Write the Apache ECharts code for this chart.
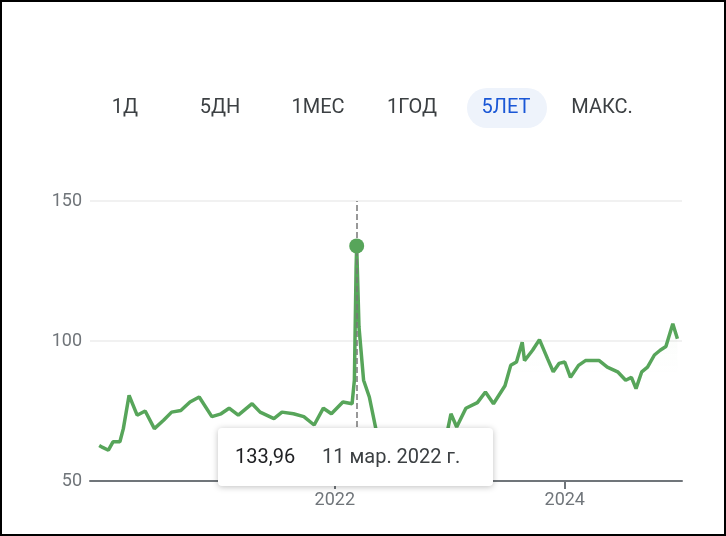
<!DOCTYPE html>
<html><head><meta charset="utf-8">
<script src="https://cdn.jsdelivr.net/npm/echarts@6/dist/echarts.min.js"></script>
<style>
html,body{margin:0;padding:0;background:#fff}
#frame{position:absolute;left:0;top:0;width:722px;height:532px;border:2px solid #000}
#chart{width:726px;height:536px;position:absolute;left:0;top:0}
</style></head>
<body><div id="frame"></div><div id="chart"></div>
<script>
// time in fractional years, price values
var times = [2019.95, 2019.98, 2020.03, 2020.07, 2020.13, 2020.16, 2020.21, 2020.28, 2020.35, 2020.43, 2020.51, 2020.58, 2020.66, 2020.74, 2020.82, 2020.93, 2021.01, 2021.08, 2021.16, 2021.28, 2021.35, 2021.47, 2021.54, 2021.64, 2021.73, 2021.82, 2021.9, 2021.97, 2022.07, 2022.15, 2022.17, 2022.185, 2022.19, 2022.21, 2022.25, 2022.3, 2022.36, 2022.45, 2022.6, 2022.8, 2022.98, 2023.01, 2023.06, 2023.14, 2023.24, 2023.31, 2023.38, 2023.48, 2023.53, 2023.58, 2023.63, 2023.65, 2023.72, 2023.78, 2023.85, 2023.9, 2023.95, 2024.0, 2024.05, 2024.12, 2024.18, 2024.3, 2024.37, 2024.46, 2024.53, 2024.58, 2024.62, 2024.67, 2024.72, 2024.78, 2024.83, 2024.88, 2024.94, 2024.98];
var prices = [62.7, 62, 61, 64, 64, 68.7, 80.6, 73.5, 75, 68.7, 71.7, 74.6, 75.2, 78.2, 80, 73, 74, 76, 73.5, 77.6, 74.6, 72.3, 74.6, 74, 73, 70, 76, 74, 78.2, 77.6, 86, 126.4, 133.96, 105, 86, 80, 68, 58, 55, 60, 68, 74, 69.3, 76, 78, 81.8, 77.6, 84, 91.3, 92.5, 99.6, 93, 96.7, 100.5, 93.7, 89, 92, 92.5, 87, 91.3, 93, 93, 90.7, 89, 86, 87, 83, 89, 90.7, 95, 96.7, 98, 106.2, 100.8];
var yTicks = [50, 100, 150];
var xTicks = [2022, 2024];
var ranges = ['1Д', '5ДН', '1МЕС', '1ГОД', '5ЛЕТ', 'МАКС.'];
var rangeX = [125, 220, 318, 412, 506, 602];
var peak = [2022.19, 133.96];

var seriesData = times.map(function (t, i) { return [t, prices[i]]; });
var chart = echarts.init(document.getElementById('chart'));
var font = 'Roboto, Arial, sans-serif';

var graphics = [];
graphics.push({ type: 'rect', shape: { x: 467, y: 88, width: 80, height: 40, r: 20 }, style: { fill: '#eef3fb' } });
ranges.forEach(function (r, i) {
  graphics.push({ type: 'text', x: rangeX[i], y: 108, style: { text: r, fill: r === '5ЛЕТ' ? '#1a57d6' : '#3c4043', font: '20px ' + font, textAlign: 'center', textVerticalAlign: 'middle' } });
});
graphics.push({ type: 'rect', z: 100, shape: { x: 218, y: 428, width: 275, height: 58, r: 4 }, style: { fill: '#fff', shadowBlur: 6, shadowColor: 'rgba(0,0,0,0.25)', shadowOffsetY: 1 } });
graphics.push({ type: 'text', z: 101, x: 235, y: 458, style: { text: '133,96', fill: '#202124', font: '20px ' + font, textVerticalAlign: 'middle' } });
graphics.push({ type: 'text', z: 101, x: 322, y: 458, style: { text: '11 мар. 2022 г.', fill: '#3c4043', font: '20px ' + font, textVerticalAlign: 'middle' } });

chart.setOption({
  animation: false,
  grid: { left: 90, right: 44, top: 201, bottom: 55 },
  xAxis: {
    type: 'value', min: 2019.87, max: 2025.02,
    axisLine: { lineStyle: { color: '#70757a', width: 2 } },
    axisTick: { show: true, customValues: xTicks, length: 8, lineStyle: { color: '#70757a', width: 2 } },
    axisLabel: { customValues: xTicks, formatter: function (v) { return String(v); }, color: '#70757a', fontSize: 18, fontFamily: font, margin: 10 },
    splitLine: { show: false }
  },
  yAxis: {
    type: 'value', min: 50, max: 150, interval: 50,
    axisLine: { show: false }, axisTick: { show: false },
    axisLabel: { color: '#70757a', fontSize: 18, fontFamily: font, margin: 8 },
    splitLine: { lineStyle: { color: '#f1f1f1', width: 2 } }
  },
  series: [{
    type: 'line', data: seriesData, showSymbol: false, smooth: false,
    lineStyle: { color: '#57a55a', width: 3.5 },
    areaStyle: { color: new echarts.graphic.LinearGradient(0, 0, 0, 1, [{ offset: 0, color: 'rgba(87,165,90,0.12)' }, { offset: 0.55, color: 'rgba(87,165,90,0)' }]) },
    markLine: { symbol: 'none', silent: true, label: { show: false }, lineStyle: { color: '#777', type: 'dashed', width: 1.5 }, data: [{ xAxis: peak[0] }] },
    markPoint: { symbol: 'circle', symbolSize: 15, itemStyle: { color: '#57a55a' }, label: { show: false }, data: [{ coord: peak }] }
  }],
  graphic: graphics
});
</script></body></html>
